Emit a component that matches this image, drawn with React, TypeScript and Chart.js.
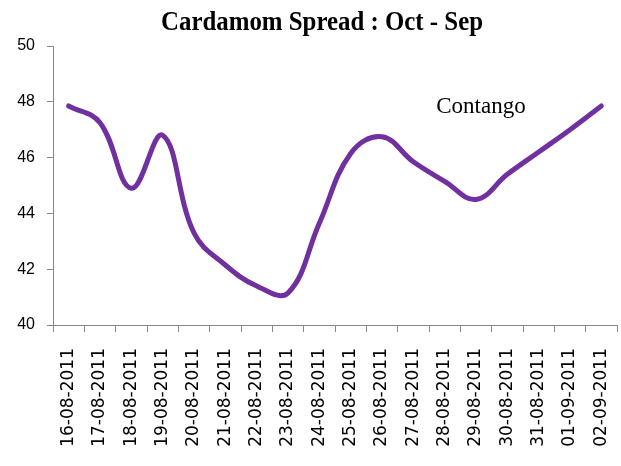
import React, { useEffect, useRef } from "react";
import { Chart, registerables } from "chart.js";

Chart.register(...registerables);

const categories: string[] = [
  "16-08-2011", "17-08-2011", "18-08-2011", "19-08-2011", "20-08-2011", "21-08-2011",
  "22-08-2011", "23-08-2011", "24-08-2011", "25-08-2011", "26-08-2011", "27-08-2011",
  "28-08-2011", "29-08-2011", "30-08-2011", "31-08-2011", "01-09-2011", "02-09-2011",
];

const spreadValues: number[] = [
  47.85, 47.25, 44.9, 46.8, 43.3, 42.15, 41.4, 41.15, 43.65,
  46.15, 46.75, 45.85, 45.15, 44.5, 45.4, 46.2, 47.0, 47.85,
];

const titleText = "Cardamom Spread : Oct - Sep";
const annotationText = "Contango";
const yMin = 40;
const yMax = 50;
const yStep = 2;

const textPlugin = {
  id: "textPlugin",
  afterDraw(chart: any) {
    const ctx = chart.ctx;
    ctx.save();
    ctx.font = 'bold 28px "Liberation Serif"';
    ctx.fillStyle = "#000";
    ctx.textAlign = "center";
    ctx.textBaseline = "alphabetic";
    const w = ctx.measureText(titleText).width;
    const sx = 322 / w;
    ctx.translate(322, 30);
    ctx.scale(sx, 1);
    ctx.fillText(titleText, 0, 0);
    ctx.restore();

    ctx.save();
    ctx.font = '23px "Liberation Serif"';
    ctx.fillStyle = "#000";
    ctx.textAlign = "center";
    ctx.textBaseline = "alphabetic";
    const xs = chart.scales.x;
    const ys = chart.scales.y;
    const px = xs.getPixelForValue(13) + 5;
    const py = ys.getPixelForValue(47.6);
    ctx.fillText(annotationText, px, py);
    ctx.restore();
  },
};

export default function App() {
  const ref = useRef<HTMLCanvasElement | null>(null);
  useEffect(() => {
    if (!ref.current) return;
    const chart = new Chart(ref.current, {
      type: "line",
      data: {
        labels: categories,
        datasets: [
          {
            data: spreadValues,
            borderColor: "#7030A0",
            backgroundColor: "#7030A0",
            borderWidth: 5,
            pointRadius: 0,
            tension: 0.4,
            fill: false,
            borderCapStyle: "round",
            borderJoinStyle: "round",
          },
        ],
      },
      options: {
        responsive: false,
        animation: false,
        layout: { padding: { top: 46, right: 4, left: 0, bottom: 0 } },
        plugins: {
          legend: { display: false },
          title: { display: false },
          tooltip: { enabled: false },
        },
        scales: {
          x: {
            offset: true,
            grid: {
              offset: true,
              drawOnChartArea: false,
              drawTicks: true,
              tickLength: 7,
              color: "#888",
            },
            border: { display: true, color: "#888", width: 1 },
            ticks: {
              minRotation: 90,
              maxRotation: 90,
              autoSkip: false,
              padding: 16,
              color: "#000",
              font: { family: "DejaVu Sans", size: 17 },
            },
            afterFit(scale: any) {
              scale.height = 141;
              scale.paddingLeft = 0;
              scale.paddingRight = 0;
            },
          },
          y: {
            min: yMin,
            max: yMax,
            grid: {
              drawOnChartArea: false,
              drawTicks: true,
              tickLength: 6,
              color: "#888",
            },
            border: { display: true, color: "#888", width: 1 },
            ticks: {
              stepSize: yStep,
              padding: 12,
              color: "#000",
              font: { family: "Liberation Sans", size: 16 },
            },
            afterFit(scale: any) {
              scale.width = 53;
              scale.paddingTop = 0;
              scale.paddingBottom = 0;
            },
          },
        },
      },
      plugins: [textPlugin],
    });
    return () => chart.destroy();
  }, []);
  return (
    <div style={{ position: "absolute", left: 0, top: 0, width: 621, height: 466, background: "#fff" }}>
      <canvas ref={ref} width={621} height={466} />
    </div>
  );
}
